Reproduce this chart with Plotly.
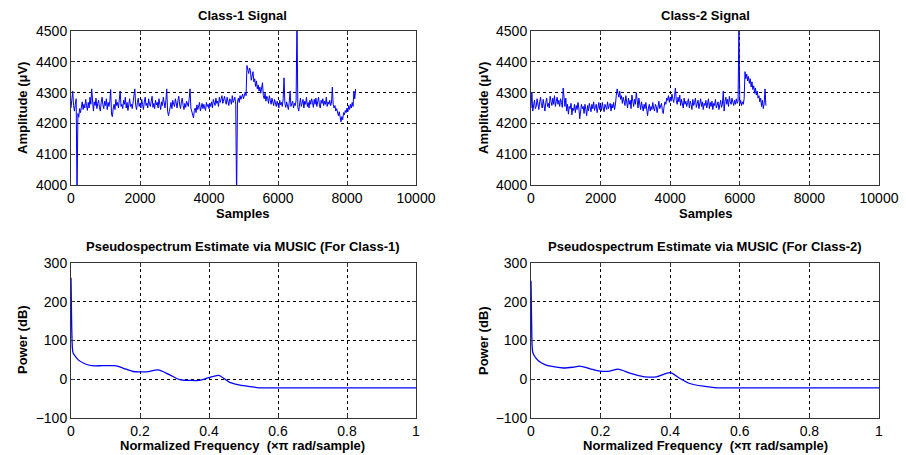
import plotly.graph_objects as go

# ---- EEG amplitude (µV), one value every 25 samples ----
class1_step = 25
class1_amplitude = [
    4250, 4275, 4305, 4258, 4240, 4262, 4280, 3950, 4232, 4220,
    4248, 4235, 4255, 4270, 4245, 4262, 4250, 4278, 4258, 4242,
    4268, 4250, 4285, 4262, 4312, 4255, 4240, 4270, 4258, 4282,
    4248, 4265, 4275, 4252, 4240, 4268, 4285, 4260, 4248, 4272,
    4258, 4280, 4245, 4268, 4255, 4272, 4310, 4228, 4222, 4250,
    4262, 4245, 4278, 4258, 4268, 4250, 4285, 4305, 4255, 4262,
    4248, 4275, 4262, 4285, 4250, 4268, 4242, 4272, 4280, 4255,
    4262, 4248, 4270, 4275, 4312, 4258, 4245, 4268, 4282, 4255,
    4265, 4250, 4278, 4262, 4245, 4270, 4285, 4258, 4266, 4250,
    4280, 4262, 4255, 4272, 4288, 4252, 4265, 4248, 4275, 4260,
    4268, 4250, 4280, 4262, 4245, 4270, 4258, 4285, 4262, 4250,
    4275, 4312, 4240, 4225, 4238, 4255, 4268, 4248, 4275, 4262,
    4255, 4280, 4262, 4250, 4275, 4288, 4260, 4248, 4270, 4282,
    4258, 4245, 4265, 4252, 4272, 4262, 4255, 4280, 4312, 4250,
    4235, 4222, 4218, 4242, 4250, 4235, 4260, 4245, 4255, 4268,
    4240, 4258, 4265, 4248, 4262, 4250, 4242, 4268, 4255, 4262,
    4248, 4265, 4255, 4270, 4250, 4278, 4262, 4258, 4282, 4265,
    4272, 4255, 4285, 4268, 4278, 4290, 4265, 4275, 4288, 4272,
    4262, 4285, 4270, 4258, 4280, 4275, 4262, 4290, 4268, 4278,
    4285, 4262, 3950, 4270, 4282, 4268, 4290, 4278, 4285, 4295,
    4280, 4292, 4302, 4290, 4388, 4375, 4362, 4380, 4372, 4340,
    4350, 4368, 4335, 4345, 4320, 4338, 4312, 4325, 4305, 4318,
    4298, 4310, 4332, 4290, 4280, 4298, 4272, 4288, 4282, 4265,
    4290, 4275, 4262, 4282, 4270, 4258, 4278, 4265, 4255, 4272,
    4262, 4250, 4275, 4260, 4268, 4255, 4280, 4348, 4265, 4252,
    4270, 4258, 4245, 4268, 4305, 4255, 4262, 4272, 4250, 4265,
    4258, 4275, 4545, 4252, 4240, 4268, 4282, 4255, 4265, 4278,
    4250, 4272, 4262, 4285, 4255, 4268, 4250, 4275, 4262, 4280,
    4268, 4252, 4278, 4262, 4282, 4255, 4270, 4285, 4260, 4250,
    4275, 4265, 4280, 4258, 4272, 4262, 4285, 4255, 4270, 4262,
    4275, 4258, 4265, 4318, 4262, 4250, 4258, 4240, 4248, 4232,
    4225, 4238, 4215, 4205, 4222, 4212, 4235, 4228, 4242, 4235,
    4250, 4238, 4258, 4245, 4262, 4250, 4268, 4255, 4305, 4280,
    4312,
]

class2_step = 25
class2_amplitude = [
    4250, 4302, 4240, 4262, 4275, 4248, 4255, 4280, 4262, 4245,
    4270, 4285, 4258, 4250, 4278, 4262, 4240, 4268, 4282, 4255,
    4265, 4250, 4288, 4272, 4258, 4282, 4262, 4290, 4255, 4270,
    4285, 4262, 4275, 4255, 4280, 4268, 4252, 4315, 4270, 4255,
    4282, 4240, 4262, 4230, 4255, 4248, 4265, 4228, 4250, 4242,
    4262, 4235, 4258, 4245, 4268, 4250, 4215, 4240, 4262, 4248,
    4255, 4232, 4262, 4245, 4225, 4258, 4240, 4265, 4250, 4238,
    4262, 4248, 4270, 4242, 4255, 4262, 4235, 4258, 4268, 4245,
    4260, 4242, 4268, 4250, 4238, 4262, 4255, 4245, 4270, 4248,
    4258, 4265, 4240, 4262, 4250, 4268, 4245, 4260, 4290, 4312,
    4298, 4285, 4305, 4278, 4290, 4265, 4285, 4272, 4258, 4290,
    4270, 4250, 4282, 4262, 4275, 4248, 4292, 4265, 4255, 4278,
    4262, 4300, 4275, 4250, 4282, 4262, 4245, 4270, 4255, 4240,
    4262, 4248, 4268, 4238, 4225, 4250, 4262, 4240, 4255, 4245,
    4268, 4250, 4240, 4262, 4255, 4235, 4260, 4272, 4248, 4258,
    4265, 4242, 4232, 4255, 4270, 4262, 4282, 4275, 4290, 4268,
    4285, 4272, 4295, 4280, 4268, 4288, 4315, 4275, 4262, 4285,
    4270, 4292, 4258, 4278, 4265, 4250, 4282, 4262, 4272, 4255,
    4268, 4280, 4250, 4272, 4262, 4245, 4278, 4258, 4268, 4282,
    4252, 4265, 4275, 4248, 4260, 4280, 4255, 4270, 4245, 4265,
    4258, 4275, 4250, 4262, 4280, 4248, 4268, 4255, 4272, 4245,
    4265, 4258, 4278, 4250, 4262, 4270, 4245, 4260, 4275, 4252,
    4262, 4305, 4240, 4272, 4285, 4262, 4278, 4255, 4288, 4270,
    4262, 4282, 4268, 4258, 4275, 4262, 4280, 4265, 4272, 4510,
    4262, 4275, 4258, 4270, 4262, 4280, 4368, 4345, 4360, 4338,
    4352, 4330, 4345, 4318, 4335, 4310, 4322, 4298, 4315, 4292,
    4305, 4282, 4290, 4270, 4282, 4255, 4275, 4248, 4265, 4312,
    4258,
]

class1_samples = [i * class1_step for i in range(len(class1_amplitude))]
class2_samples = [i * class2_step for i in range(len(class2_amplitude))]

# ---- MUSIC pseudospectrum (dB) ----
class1_freq = [0, 0.001, 0.002, 0.004, 0.006, 0.01, 0.021, 0.04, 0.06, 0.09,
               0.127, 0.15, 0.18, 0.2, 0.22, 0.252, 0.285, 0.315, 0.345, 0.372,
               0.40, 0.428, 0.46, 0.49, 0.52, 0.545, 0.6, 0.8, 1.0]
class1_power = [262, 200, 136, 80, 68, 62, 50, 40, 35, 35,
                35, 29, 20, 19, 19, 24, 12, -1, -3, -3,
                4, 10, -8, -15, -19, -22, -22, -22, -22]

class2_freq = [0, 0.001, 0.002, 0.003, 0.005, 0.01, 0.021, 0.04, 0.06, 0.093,
               0.12, 0.14, 0.17, 0.198, 0.227, 0.25, 0.284, 0.322, 0.36, 0.40,
               0.428, 0.456, 0.495, 0.533, 0.6, 0.8, 1.0]
class2_power = [254, 190, 130, 90, 70, 60, 48, 38, 33, 29,
                31, 34, 27, 21, 21, 26, 16, 7, 6, 17,
                2, -11, -18, -22, -22, -22, -22]

W, H = 906, 455
FONT = "Liberation Sans, Arial, sans-serif"
BLUE = "#0000ff"

fig = go.Figure()
sig_line = dict(color=BLUE, width=1)
spec_line = dict(color=BLUE, width=1.3, shape="spline", smoothing=0.7)
fig.add_trace(go.Scatter(x=class1_samples, y=class1_amplitude, mode="lines", line=sig_line, xaxis="x", yaxis="y"))
fig.add_trace(go.Scatter(x=class2_samples, y=class2_amplitude, mode="lines", line=sig_line, xaxis="x2", yaxis="y2"))
fig.add_trace(go.Scatter(x=class1_freq, y=class1_power, mode="lines", line=spec_line, xaxis="x3", yaxis="y3"))
fig.add_trace(go.Scatter(x=class2_freq, y=class2_power, mode="lines", line=spec_line, xaxis="x4", yaxis="y4"))


def px_x(p):
    return p / W


def px_y(p):
    return 1 - p / H


def axis_style(**kw):
    d = dict(
        showline=True, linecolor="#333333", linewidth=1, mirror="ticks",
        ticks="inside", ticklen=4, tickcolor="#333333",
        showgrid=True, gridcolor="#000000", griddash="dot", gridwidth=1,
        zeroline=False, fixedrange=True, automargin=False,
        tickfont=dict(family=FONT, size=14, color="#000000"),
    )
    d.update(kw)
    return d


left_dom = [px_x(71), px_x(416)]
right_dom = [px_x(531), px_x(879)]
top_dom = [px_y(185), px_y(31)]
bot_dom = [px_y(418), px_y(263)]

fig.update_layout(
    width=W, height=H,
    margin=dict(l=0, r=0, t=0, b=0, pad=0),
    paper_bgcolor="white", plot_bgcolor="white",
    showlegend=False,
    font=dict(family=FONT, size=13, color="#000000"),
    xaxis=axis_style(domain=left_dom, range=[0, 10000], dtick=2000, tickformat="d", anchor="y"),
    yaxis=axis_style(domain=top_dom, range=[4000, 4500], dtick=100, anchor="x"),
    xaxis2=axis_style(domain=right_dom, range=[0, 10000], dtick=2000, tickformat="d", anchor="y2"),
    yaxis2=axis_style(domain=top_dom, range=[4000, 4500], dtick=100, anchor="x2"),
    xaxis3=axis_style(domain=left_dom, range=[0, 1], dtick=0.2, anchor="y3"),
    yaxis3=axis_style(domain=bot_dom, range=[-100, 300], dtick=100, anchor="x3"),
    xaxis4=axis_style(domain=right_dom, range=[0, 1], dtick=0.2, anchor="y4"),
    yaxis4=axis_style(domain=bot_dom, range=[-100, 300], dtick=100, anchor="x4"),
)


def label(text, x, y, angle=0):
    fig.add_annotation(
        text=f"<b>{text}</b>", x=px_x(x), y=px_y(y), xref="paper", yref="paper",
        showarrow=False, textangle=angle, xanchor="center", yanchor="middle",
        borderpad=0,
        font=dict(family=FONT, size=13, color="#000000"),
    )


label("Class-1 Signal", 243, 16)
label("Class-2 Signal", 705, 16)
label("Samples", 243, 213)
label("Samples", 705, 213)
label("Amplitude (\u03bcV)", 22, 108, -90)
label("Amplitude (\u03bcV)", 483, 108, -90)
label("Pseudospectrum Estimate via MUSIC (For Class-1)", 243, 247)
label("Pseudospectrum Estimate via MUSIC (For Class-2)", 705, 247)
label("Normalized Frequency \u00a0(\u00d7\u03c0 rad/sample)", 243, 445)
label("Normalized Frequency \u00a0(\u00d7\u03c0 rad/sample)", 705, 445)
label("Power (dB)", 22, 340, -90)
label("Power (dB)", 483, 340, -90)

fig.write_html(
    "out.html",
    config={"responsive": False, "displayModeBar": False},
    post_script="document.body.style.margin='0';document.body.style.overflow='hidden';",
)
